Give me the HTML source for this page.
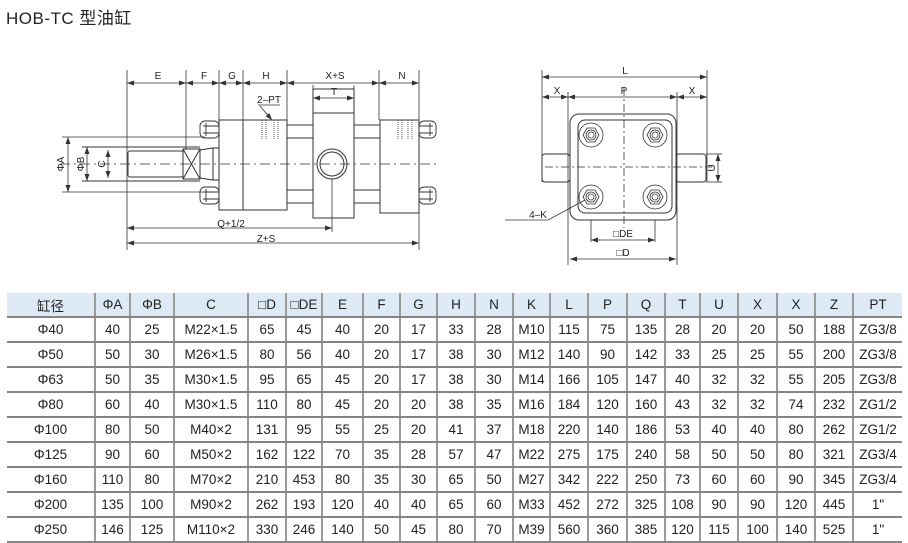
<!DOCTYPE html>
<html><head><meta charset="utf-8"><style>
body{margin:0;width:908px;height:542px;background:#fff;position:relative;overflow:hidden;font-family:"Liberation Sans","Noto Sans CJK SC",sans-serif;}
.title{position:absolute;left:6px;top:4px;font-size:17px;color:#222;letter-spacing:0.5px}
table{position:absolute;left:7px;top:293px;border-collapse:collapse;table-layout:fixed;width:895px;font-size:13.5px;color:#222}
td{text-align:center;padding:0;height:23px;border-left:2px solid #9a9a9a;border-bottom:2px solid #858585;white-space:nowrap;overflow:hidden}
tr td:first-child{border-left:none}
tr.h td{background:#dde9f4;height:23px}
svg{position:absolute;left:0;top:0}
</style></head><body>
<div class="title">HOB-TC 型油缸</div>
<svg width="908" height="290" viewBox="0 0 908 290" font-family="Liberation Sans, sans-serif" font-size="10" fill="none" stroke="#333" stroke-width="1">
<defs><marker id="a" markerWidth="7" markerHeight="5" refX="7" refY="2.5" orient="auto-start-reverse" markerUnits="userSpaceOnUse"><path d="M0,0 L7,2.5 L0,5z" fill="#333" stroke="none"/></marker></defs>
<g stroke-width="0.8">
<line x1="127" y1="70" x2="127" y2="250"/><line x1="186" y1="70" x2="186" y2="150"/>
<line x1="219" y1="70" x2="219" y2="120"/><line x1="243" y1="70" x2="243" y2="120"/>
<line x1="287" y1="70" x2="287" y2="120"/><line x1="379" y1="70" x2="379" y2="120"/>
<line x1="419" y1="70" x2="419" y2="250"/>
<line x1="313" y1="85" x2="313" y2="100"/><line x1="354" y1="85" x2="354" y2="100"/>
</g>
<g stroke-width="0.8" marker-start="url(#a)" marker-end="url(#a)">
<line x1="127" y1="83" x2="186" y2="83"/><line x1="186" y1="83" x2="219" y2="83"/>
<line x1="219" y1="83" x2="243" y2="83"/><line x1="243" y1="83" x2="287" y2="83"/>
<line x1="287" y1="83" x2="379" y2="83"/><line x1="379" y1="83" x2="419" y2="83"/>
<line x1="313" y1="98" x2="354" y2="98"/>
<line x1="127" y1="228" x2="332" y2="228"/><line x1="127" y1="243" x2="419" y2="243"/>
<line x1="68" y1="137" x2="68" y2="192"/><line x1="87" y1="147" x2="87" y2="181"/><line x1="108" y1="150" x2="108" y2="178"/>
</g>
<g fill="#222" stroke="none" text-anchor="middle">
<text x="158" y="79">E</text><text x="204" y="79">F</text><text x="232" y="79">G</text><text x="266" y="79">H</text><text x="335" y="79">X+S</text><text x="402" y="79">N</text>
<text x="334" y="95">T</text><text x="269" y="103">2–PT</text>
<text x="231" y="227">Q+1/2</text><text x="266" y="242">Z+S</text>
<text transform="translate(64,164) rotate(-90)">ΦA</text><text transform="translate(84,164) rotate(-90)">ΦB</text><text transform="translate(105,164) rotate(-90)">C</text>
</g>
<line x1="258" y1="105" x2="280" y2="105" stroke-width="0.8"/>
<line x1="260" y1="106" x2="272" y2="120" stroke-width="0.8" marker-end="url(#a)"/>
<line x1="62" y1="137" x2="205" y2="137" stroke-width="0.8"/><line x1="62" y1="192" x2="205" y2="192" stroke-width="0.8"/>
<line x1="82" y1="147" x2="200" y2="147"/><line x1="82" y1="181" x2="200" y2="181"/>
<rect x="128" y="151" width="55" height="26" rx="2"/>
<rect x="183" y="149" width="17" height="30"/><path d="M183,149 L200,179 M200,149 L183,179"/>
<path d="M200,150 L213,148 L213,180 L200,178"/><line x1="213" y1="148" x2="219" y2="148"/><line x1="213" y1="180" x2="219" y2="180"/>
<rect x="219" y="120" width="68" height="90" fill="#fff"/><line x1="243" y1="120" x2="243" y2="210"/>
<rect x="313" y="89" width="41" height="129"/><line x1="313" y1="113" x2="354" y2="113"/>
<rect x="380" y="120" width="39" height="93"/>
<path d="M287,125 H313 M287,138 H313 M354,125 H380 M354,138 H380 M287,190 H313 M287,203 H313 M354,190 H380 M354,203 H380"/>
<g stroke-dasharray="1,1" stroke-width="0.8"><path d="M262,120 V140 M266,120 V140 M274,120 V140 M278,120 V140 M398,120 V140 M402,120 V140 M408,120 V140 M412,120 V140"/></g>
<g stroke-width="0.9">
<g transform="translate(200,121)"><rect x="0" y="0" width="19" height="17" rx="5"/><path d="M3,5 H19 M3,12 H19 M6,2 V15"/></g>
<g transform="translate(200,187)"><rect x="0" y="0" width="19" height="17" rx="5"/><path d="M3,5 H19 M3,12 H19 M6,2 V15"/></g>
<g transform="translate(419,121)"><rect x="0" y="0" width="17" height="17" rx="5"/><path d="M0,5 H14 M0,12 H14 M11,2 V15"/></g>
<g transform="translate(419,187)"><rect x="0" y="0" width="17" height="17" rx="5"/><path d="M0,5 H14 M0,12 H14 M11,2 V15"/></g>
</g>
<circle cx="332" cy="164" r="15" fill="#fff"/><circle cx="332" cy="164" r="12"/>
<line x1="332" y1="179" x2="332" y2="232" stroke-width="0.8"/>
<line x1="60" y1="164" x2="438" y2="164" stroke-dasharray="10,4,2,4" stroke-width="0.8"/>
<g stroke-width="0.8">
<line x1="542" y1="70" x2="542" y2="182"/><line x1="707" y1="70" x2="707" y2="182"/>
<line x1="568" y1="92" x2="568" y2="265"/><line x1="677" y1="92" x2="677" y2="265"/>
<line x1="591" y1="200" x2="591" y2="242"/><line x1="655" y1="200" x2="655" y2="242"/>
<line x1="706" y1="154" x2="722" y2="154"/><line x1="706" y1="182" x2="722" y2="182"/>
</g>
<g stroke-width="0.8" marker-start="url(#a)" marker-end="url(#a)">
<line x1="542" y1="77" x2="707" y2="77"/>
<line x1="542" y1="97" x2="568" y2="97"/><line x1="568" y1="97" x2="677" y2="97"/><line x1="677" y1="97" x2="707" y2="97"/>
<line x1="718" y1="154" x2="718" y2="182"/>
<line x1="591" y1="240" x2="655" y2="240"/><line x1="570" y1="259" x2="676" y2="259"/>
</g>
<g fill="#222" stroke="none" text-anchor="middle">
<text x="625" y="74">L</text><text x="557" y="94">X</text><text x="624" y="94">P</text><text x="692" y="94">X</text>
<text transform="translate(715,168) rotate(-90)">U</text>
<text x="538" y="218">4–K</text><text x="623" y="237">□DE</text><text x="623" y="256">□D</text>
</g>
<rect x="542" y="154" width="28" height="28" rx="3"/><rect x="676" y="154" width="30" height="28" rx="3"/>
<rect x="570" y="114" width="106" height="106" rx="9" fill="#fff"/>
<rect x="578" y="120" width="94" height="93" rx="7"/>
<g stroke-width="0.8">
<g transform="translate(591,135)"><circle r="12"/><path d="M8,0 L4,7 L-4,7 L-8,0 L-4,-7 L4,-7z"/><circle r="5"/><circle r="3"/></g>
<g transform="translate(655,135)"><circle r="12"/><path d="M8,0 L4,7 L-4,7 L-8,0 L-4,-7 L4,-7z"/><circle r="5"/><circle r="3"/></g>
<g transform="translate(591,197)"><circle r="12"/><path d="M8,0 L4,7 L-4,7 L-8,0 L-4,-7 L4,-7z"/><circle r="5"/><circle r="3"/></g>
<g transform="translate(655,197)"><circle r="12"/><path d="M8,0 L4,7 L-4,7 L-8,0 L-4,-7 L4,-7z"/><circle r="5"/><circle r="3"/></g>
</g>
<g stroke-dasharray="8,3,2,3" stroke-width="0.8"><line x1="545" y1="167" x2="712" y2="167"/><line x1="624" y1="88" x2="624" y2="228"/></g>
<path d="M505,220 H548 L585,200" stroke-width="0.8"/>
</svg>
<table>
<colgroup><col style="width:88px"><col style="width:35px"><col style="width:44px"><col style="width:74px"><col style="width:38px"><col style="width:36px"><col style="width:41px"><col style="width:37px"><col style="width:37px"><col style="width:38px"><col style="width:38px"><col style="width:37px"><col style="width:38px"><col style="width:39px"><col style="width:38px"><col style="width:35px"><col style="width:38px"><col style="width:39px"><col style="width:38px"><col style="width:38px"><col style="width:49px"></colgroup>
<tr class="h"><td>缸径</td><td>ΦA</td><td>ΦB</td><td>C</td><td>□D</td><td>□DE</td><td>E</td><td>F</td><td>G</td><td>H</td><td>N</td><td>K</td><td>L</td><td>P</td><td>Q</td><td>T</td><td>U</td><td>X</td><td>X</td><td>Z</td><td>PT</td></tr>
<tr><td>Φ40</td><td>40</td><td>25</td><td>M22×1.5</td><td>65</td><td>45</td><td>40</td><td>20</td><td>17</td><td>33</td><td>28</td><td>M10</td><td>115</td><td>75</td><td>135</td><td>28</td><td>20</td><td>20</td><td>50</td><td>188</td><td>ZG3/8</td></tr>
<tr><td>Φ50</td><td>50</td><td>30</td><td>M26×1.5</td><td>80</td><td>56</td><td>40</td><td>20</td><td>17</td><td>38</td><td>30</td><td>M12</td><td>140</td><td>90</td><td>142</td><td>33</td><td>25</td><td>25</td><td>55</td><td>200</td><td>ZG3/8</td></tr>
<tr><td>Φ63</td><td>50</td><td>35</td><td>M30×1.5</td><td>95</td><td>65</td><td>45</td><td>20</td><td>17</td><td>38</td><td>30</td><td>M14</td><td>166</td><td>105</td><td>147</td><td>40</td><td>32</td><td>32</td><td>55</td><td>205</td><td>ZG3/8</td></tr>
<tr><td>Φ80</td><td>60</td><td>40</td><td>M30×1.5</td><td>110</td><td>80</td><td>45</td><td>20</td><td>20</td><td>38</td><td>35</td><td>M16</td><td>184</td><td>120</td><td>160</td><td>43</td><td>32</td><td>32</td><td>74</td><td>232</td><td>ZG1/2</td></tr>
<tr><td>Φ100</td><td>80</td><td>50</td><td>M40×2</td><td>131</td><td>95</td><td>55</td><td>25</td><td>20</td><td>41</td><td>37</td><td>M18</td><td>220</td><td>140</td><td>186</td><td>53</td><td>40</td><td>40</td><td>80</td><td>262</td><td>ZG1/2</td></tr>
<tr><td>Φ125</td><td>90</td><td>60</td><td>M50×2</td><td>162</td><td>122</td><td>70</td><td>35</td><td>28</td><td>57</td><td>47</td><td>M22</td><td>275</td><td>175</td><td>240</td><td>58</td><td>50</td><td>50</td><td>80</td><td>321</td><td>ZG3/4</td></tr>
<tr><td>Φ160</td><td>110</td><td>80</td><td>M70×2</td><td>210</td><td>453</td><td>80</td><td>35</td><td>30</td><td>65</td><td>50</td><td>M27</td><td>342</td><td>222</td><td>250</td><td>73</td><td>60</td><td>60</td><td>90</td><td>345</td><td>ZG3/4</td></tr>
<tr><td>Φ200</td><td>135</td><td>100</td><td>M90×2</td><td>262</td><td>193</td><td>120</td><td>40</td><td>40</td><td>65</td><td>60</td><td>M33</td><td>452</td><td>272</td><td>325</td><td>108</td><td>90</td><td>90</td><td>120</td><td>445</td><td>1"</td></tr>
<tr><td>Φ250</td><td>146</td><td>125</td><td>M110×2</td><td>330</td><td>246</td><td>140</td><td>50</td><td>45</td><td>80</td><td>70</td><td>M39</td><td>560</td><td>360</td><td>385</td><td>120</td><td>115</td><td>100</td><td>140</td><td>525</td><td>1"</td></tr>
</table>
</body></html>
